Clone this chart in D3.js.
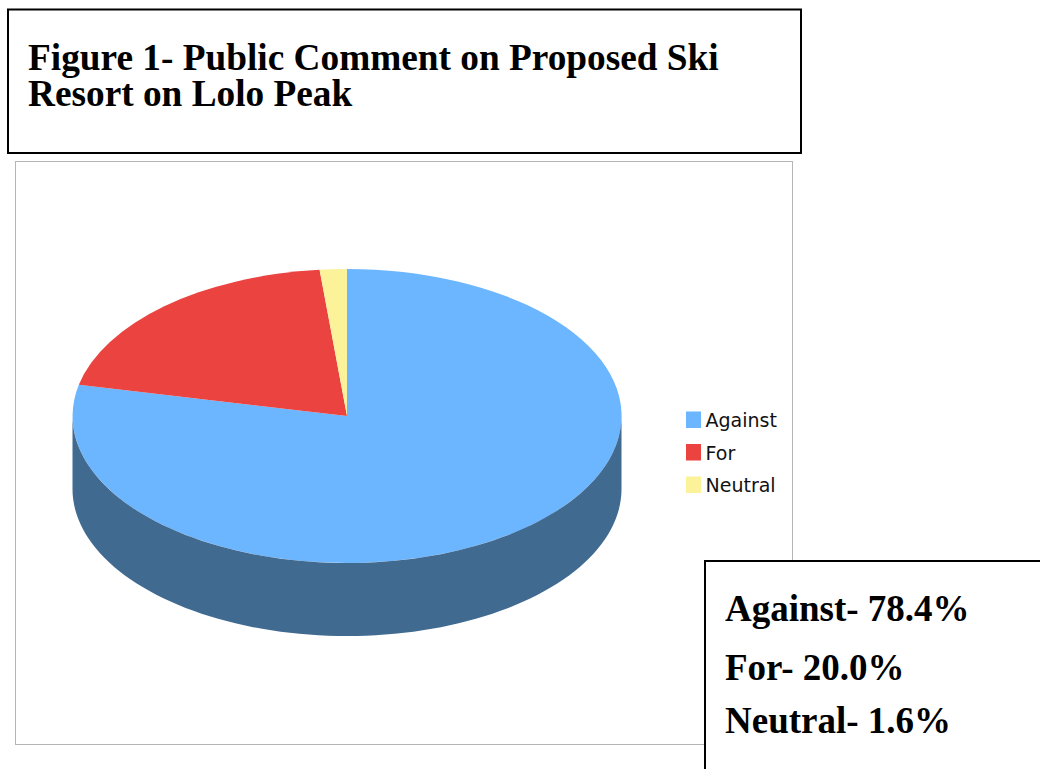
<!DOCTYPE html>
<html><head><meta charset="utf-8">
<script src="https://cdnjs.cloudflare.com/ajax/libs/d3/7.8.5/d3.min.js"></script>
<style>html,body{margin:0;padding:0;background:#fff}svg{display:block}</style>
</head><body><svg id="c" width="1040" height="769"></svg>
<script>
const categories = ["Against","For","Neutral"];
const values = [78.4,20.0,1.6];
const topColors = ["#6cb6ff","#ea4340","#fbf29a"];
const sideColor = "#416a91";
const titleLines = ["Figure 1- Public Comment on Proposed Ski","Resort on Lolo Peak"];
const summaryLines = ["Against- 78.4%","For- 20.0%","Neutral- 1.6%"];
const summaryY = [620.5,679.5,733];

const svg = d3.select("#c");
const serif = "'Liberation Serif','Times New Roman',serif";
const sans = "'DejaVu Sans',sans-serif";

svg.append("rect").attr("x",8).attr("y",9.5).attr("width",793).attr("height",143.5)
  .attr("fill","#fff").attr("stroke","#000").attr("stroke-width",2);
svg.append("text").attr("font-family",serif).attr("font-weight","bold").attr("font-size",37.3).attr("fill","#000")
  .selectAll("tspan").data(titleLines).join("tspan").attr("x",28).attr("y",(d,i)=>70+i*36).text(d=>d);

svg.append("rect").attr("x",15.5).attr("y",161.5).attr("width",777).attr("height",583)
  .attr("fill","#fff").attr("stroke","#b5b5b5");

const cx=347, cy=416, rx=274.5, ry=147, depth=73;
const unit = d3.scaleLinear().domain([-1,1]).range([-1,1]);
const pie = d3.pie().sort(null).value(d=>d);
const arcs = pie(values);
const g = svg.append("g").attr("transform",`translate(${cx},${cy}) scale(${rx},${ry})`);
const arc = d3.arc().innerRadius(0).outerRadius(unit(1));

// side wall: extruded front half of the ellipse
const front = d3.range(0,181,2).map(a=>[rx*Math.cos(a*Math.PI/180),ry*Math.sin(a*Math.PI/180)]);
const wall = front.map(p=>[p[0],p[1]+depth]).concat(front.slice().reverse());
svg.append("path").attr("transform",`translate(${cx},${cy})`)
  .attr("d",d3.line()(wall)+"Z").attr("fill",sideColor);

g.selectAll("path").data(arcs).join("path")
  .attr("d",arc).attr("fill",(d,i)=>topColors[i]);

const legendY = d3.scalePoint().domain(categories).range([420,485]);
const lg = svg.append("g").selectAll("g").data(categories).join("g")
  .attr("transform",d=>`translate(686,${legendY(d)})`);
lg.append("rect").attr("x",0).attr("y",-8.5).attr("width",15).attr("height",16.5)
  .attr("fill",(d,i)=>topColors[i]);
lg.append("text").attr("x",19.5).attr("y",7).attr("font-family",sans).attr("font-size",19).attr("fill","#111").text(d=>d);

svg.append("rect").attr("x",705).attr("y",561).attr("width",345).attr("height",220)
  .attr("fill","#fff").attr("stroke","#000").attr("stroke-width",2);
svg.append("g").selectAll("text").data(summaryLines).join("text")
  .attr("x",725).attr("y",(d,i)=>summaryY[i])
  .attr("font-family",serif).attr("font-weight","bold").attr("font-size",37).attr("fill","#000").text(d=>d);
</script></body></html>
